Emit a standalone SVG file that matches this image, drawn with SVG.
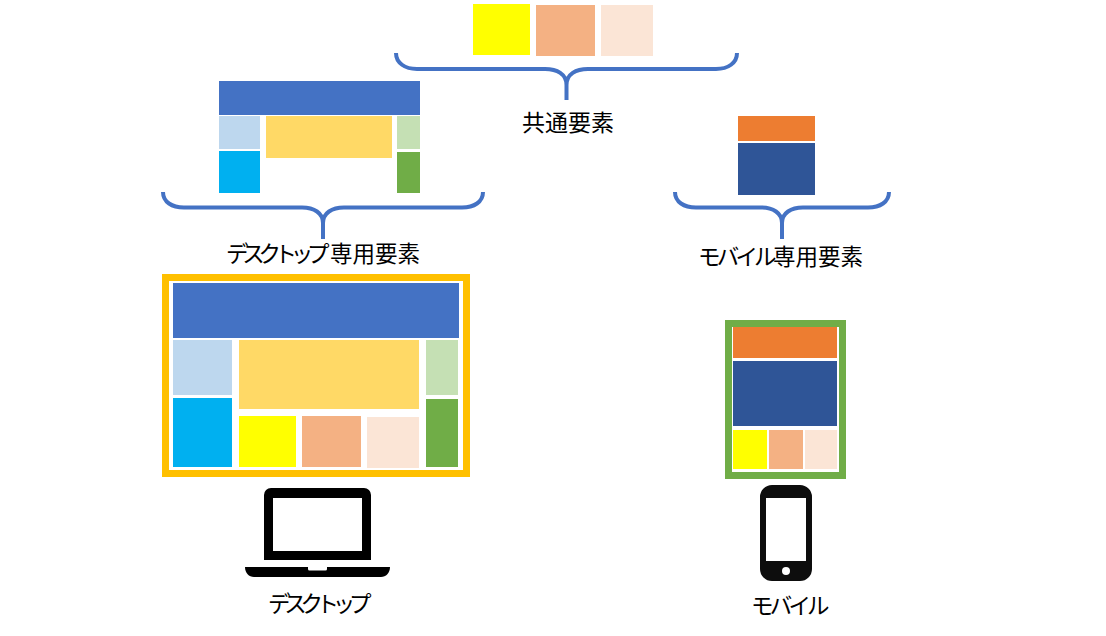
<svg xmlns="http://www.w3.org/2000/svg" width="1106" height="636" viewBox="0 0 1106 636">
<style>
.bl{fill:#4472c4}.lb{fill:#bdd7ee}.cy{fill:#00b0f0}.go{fill:#ffd966}.lg{fill:#c5e0b4}.gr{fill:#70ad47}
.ye{fill:#ffff00}.sa{fill:#f4b183}.pe{fill:#fbe5d6}.or{fill:#ed7d31}.na{fill:#2f5597}
.brace{fill:none;stroke:#4472c4;stroke-width:4}
text{font-family:"Noto Sans CJK JP","Noto Sans",sans-serif;font-size:22.5px;fill:#000;text-anchor:start}
.k{letter-spacing:-6.3px}
.m{letter-spacing:-3.8px}
</style>
<rect width="1106" height="636" fill="#fff"/>
<g id="common-elements">
<rect class="ye" x="473" y="4" width="57" height="51"/>
<rect class="sa" x="536" y="5" width="59" height="51"/>
<rect class="pe" x="601" y="5" width="52" height="51"/>
<text x="522" y="131" style="font-size:23px">共通要素</text>
</g>
<g id="desktop-elements">
<rect class="bl" x="219" y="81" width="201" height="34"/>
<rect class="lb" x="219" y="116" width="41" height="33"/>
<rect class="cy" x="219" y="151" width="41" height="42"/>
<rect class="go" x="266" y="116" width="126" height="42"/>
<rect class="lg" x="397" y="116" width="23" height="33"/>
<rect class="gr" x="397" y="152" width="23" height="41"/>
<text x="226" y="262"><tspan class="k">デスクトップ</tspan><tspan x="330">専用要素</tspan></text>
</g>
<g id="mobile-elements">
<rect class="or" x="738" y="116" width="77" height="25"/>
<rect class="na" x="738" y="143" width="77" height="52"/>
<text x="698" y="265"><tspan class="m">モバイル</tspan><tspan x="773">専用要素</tspan></text>
</g>
<g id="desktop-layout">
<rect x="165.500" y="277.500" width="301" height="196" fill="#fff" stroke="#ffc000" stroke-width="7"/>
<rect class="bl" x="173" y="283" width="286" height="55"/>
<rect class="lb" x="173" y="340" width="59" height="55"/>
<rect class="cy" x="173" y="398" width="59" height="69"/>
<rect class="go" x="239" y="340" width="180" height="69"/>
<rect class="ye" x="239" y="416" width="57" height="51"/>
<rect class="sa" x="302" y="416" width="59" height="51"/>
<rect class="pe" x="367" y="417" width="52" height="51"/>
<rect class="lg" x="426" y="340" width="32" height="55"/>
<rect class="gr" x="426" y="399" width="32" height="68"/>
</g>
<g id="mobile-layout">
<rect x="728.500" y="323.500" width="114" height="152" fill="#fff" stroke="#70ad47" stroke-width="7"/>
<rect class="or" x="733" y="327" width="104" height="31"/>
<rect class="na" x="733" y="361" width="104" height="65"/>
<rect class="ye" x="733" y="430" width="34" height="39"/>
<rect class="sa" x="769" y="430" width="34" height="39"/>
<rect class="pe" x="805" y="430" width="32" height="39"/>
</g>
<g id="laptop">
<path fill-rule="evenodd" d="M271 488H364a7 7 0 0 1 7 7V560H264V495a7 7 0 0 1 7-7ZM273 498V551H362V498Z"/>
<path d="M245 567H308V569a1.500 1.500 0 0 0 1.500 1.500H325.500a1.500 1.500 0 0 0 1.500-1.500V567H390C390 573 386 577 381 577H254C249 577 245 573 245 567Z"/>
<text x="268" y="612" class="k">デスクトップ</text>
</g>
<g id="phone">
<path fill="#0d0d0d" fill-rule="evenodd" d="M772 485H800a12 12 0 0 1 12 12V569a12 12 0 0 1-12 12H772a12 12 0 0 1-12-12V497a12 12 0 0 1 12-12ZM766 498V561H806V498Z"/>
<circle cx="786" cy="571" r="4" fill="#fff"/>
<text x="751" y="614" class="m">モバイル</text>
</g>
<g id="connectors">
<path class="brace" d="M396 53C396 63 405 69 417 69H545C557 69 566.500 74 566.500 85V100M566.500 85C566.500 74 576 69 588 69H716C728 69 737 63 737 53"/>
<path class="brace" d="M163 192C163 202 172 207.500 184 207.500H302C314 207.500 323 213 323 223V239M323 223C323 213 332 207.500 344 207.500H462C474 207.500 483 202 483 192"/>
<path class="brace" d="M675 192C675 202 684 207.500 696 207.500H761C773 207.500 782 213 782 223V239M782 223C782 213 791 207.500 803 207.500H868C880 207.500 889 202 889 192"/>
</g>
</svg>
